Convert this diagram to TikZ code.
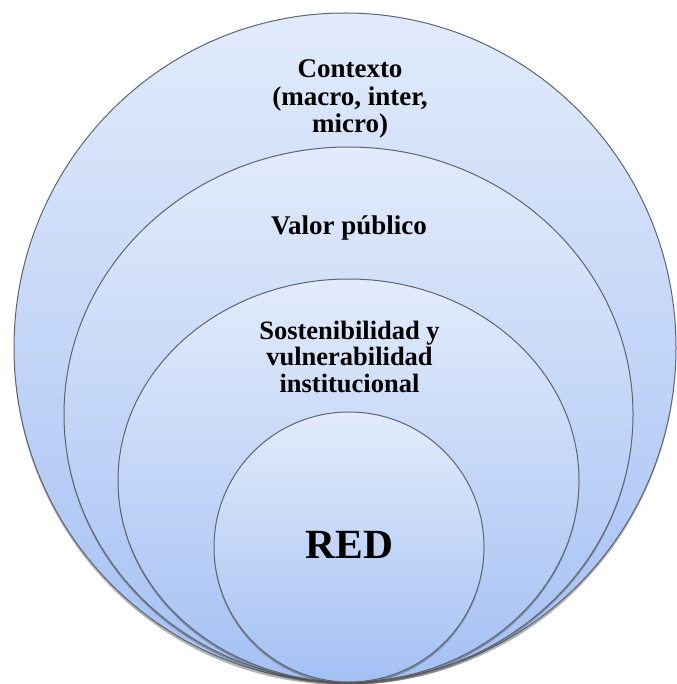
\documentclass[tikz,border=0pt]{standalone}
\usepackage{fontspec}
\setmainfont{Liberation Serif}
\usetikzlibrary{shapes.geometric}
\definecolor{topc}{HTML}{E2EBFB}
\definecolor{botc}{HTML}{A4C0F4}
\definecolor{edge}{HTML}{5E6470}
\tikzset{
  ring/.style={ellipse, draw=edge, line width=1pt, inner sep=0pt,
    top color=topc, bottom color=botc, shading angle=0},
  ringshadow/.style={ellipse, fill=black!75, fill opacity=0.4, inner sep=0pt, draw=none},
  lbl/.style={align=center, text=black, inner sep=0pt}
}
\begin{document}
\begin{tikzpicture}[x=1pt,y=-1pt]
\useasboundingbox (0,0) rectangle (676,684);
% outer
\node[ringshadow, minimum width=662pt, minimum height=669pt] at (345,350.5) {};
\node[ring, minimum width=662pt, minimum height=669pt] (outer) at (345,347.5) {};
% second
\node[ringshadow, minimum width=569pt, minimum height=535pt] at (348.5,417) {};
\node[ring, minimum width=569pt, minimum height=535pt] (valor) at (348.5,414.5) {};
% third
\node[ringshadow, minimum width=461pt, minimum height=403pt] at (348.5,483) {};
\node[ring, minimum width=461pt, minimum height=403pt] (sost) at (348.5,480.5) {};
% inner
\node[ringshadow, minimum width=270pt, minimum height=270pt] at (349,549.5) {};
\node[ring, minimum width=270pt, minimum height=270pt] (red) at (349,547) {};
% labels (base anchor = baseline of last line)
\node[lbl, font=\fontsize{27}{27.5}\selectfont\bfseries, anchor=base] (tctx) at (350,133) {Contexto\\(macro, inter,\\micro)};
\node[lbl, font=\fontsize{27}{27.5}\selectfont\bfseries, anchor=base] (tval) at (349,235) {Valor público};
\node[lbl, font=\fontsize{26.5}{26.5}\selectfont\bfseries, anchor=base] (tsost) at (349.5,392) {Sostenibilidad y\\vulnerabilidad\\institucional};
\node[lbl, font=\fontsize{41.5}{44}\selectfont\bfseries, anchor=base] (tred) at (349.5,558) {RED};
\end{tikzpicture}
\end{document}
